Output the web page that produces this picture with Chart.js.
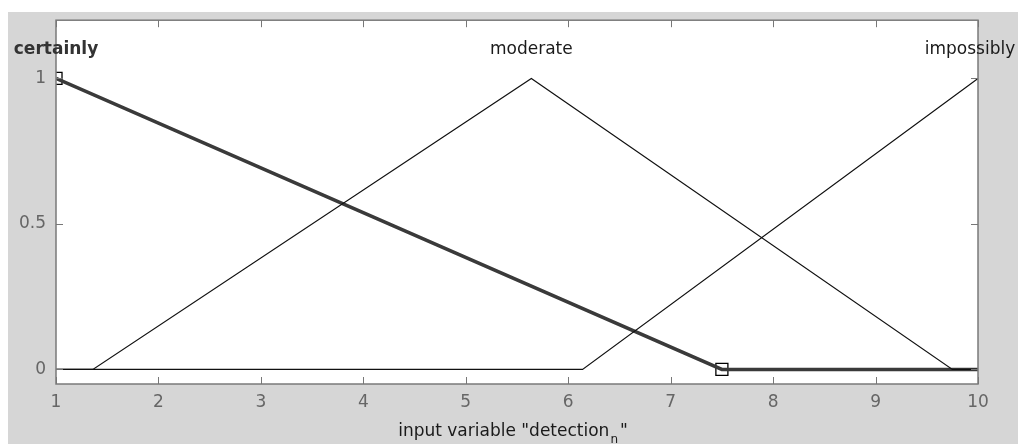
<!DOCTYPE html>
<html>
<head>
<meta charset="utf-8">
<script src="https://cdn.jsdelivr.net/npm/chart.js@4/dist/chart.umd.min.js"></script>
<style>
html,body{margin:0;padding:0;background:#fff;}
canvas{display:block;}
</style>
</head>
<body>
<canvas id="c" width="1018" height="444"></canvas>
<script>
// ---- data ----
const mfNames = ["certainly", "moderate", "impossibly"];
const mfPeaks = [1, 5.64, 10];
const certainlyX = [1, 7.5, 10];
const certainlyY = [1, 0, 0];
const moderateX = [1, 1.36, 5.64, 9.75, 10];
const moderateY = [0, 0, 1, 0, 0];
const impossiblyX = [1, 6.14, 10];
const impossiblyY = [0, 0, 1];
const markerX = [1, 7.5];
const markerY = [1, 0];
const xTicks = [1, 2, 3, 4, 5, 6, 7, 8, 9, 10];
const yTicks = [0, 0.5, 1];
const yTickLabels = ["0", "0.5", "1"];

function pts(xs, ys) { return xs.map((x, i) => ({x: x, y: ys[i]})); }

const FONT = "'DejaVu Sans', sans-serif";

const decor = {
  id: 'decor',
  beforeDraw(chart) {
    const ctx = chart.ctx, a = chart.chartArea;
    ctx.save();
    ctx.fillStyle = '#ffffff';
    ctx.fillRect(0, 0, chart.width, chart.height);
    ctx.fillStyle = '#d6d6d6';
    ctx.fillRect(8, 12, chart.width - 8, chart.height - 12);
    ctx.fillStyle = '#ffffff';
    ctx.fillRect(a.left, a.top, a.right - a.left, a.bottom - a.top);
    ctx.restore();
  },
  afterDraw(chart) {
    const ctx = chart.ctx, a = chart.chartArea;
    const xs = chart.scales.x, ys = chart.scales.y;
    ctx.save();
    // frame
    ctx.strokeStyle = '#7a7a7a';
    ctx.lineWidth = 1.5;
    ctx.strokeRect(a.left, a.top, a.right - a.left, a.bottom - a.top);
    // inside ticks
    ctx.lineWidth = 1;
    ctx.strokeStyle = '#777';
    ctx.beginPath();
    xTicks.forEach(v => {
      const px = Math.round(xs.getPixelForValue(v)) + 0.5;
      ctx.moveTo(px, a.bottom); ctx.lineTo(px, a.bottom - 7);
      ctx.moveTo(px, a.top); ctx.lineTo(px, a.top + 7);
    });
    yTicks.forEach(v => {
      const py = Math.round(ys.getPixelForValue(v)) + 0.5;
      ctx.moveTo(a.left, py); ctx.lineTo(a.left + 7, py);
      ctx.moveTo(a.right, py); ctx.lineTo(a.right - 7, py);
    });
    ctx.stroke();
    // MF labels
    ctx.textAlign = 'center';
    ctx.textBaseline = 'middle';
    mfNames.forEach((n, i) => {
      ctx.font = (i === 0 ? 'bold 17px ' : '17px ') + FONT;
      ctx.fillStyle = i === 0 ? '#333' : '#1a1a1a';
      let px = xs.getPixelForValue(mfPeaks[i]);
      if (i === 2) px -= 8;
      ctx.fillText(n, px, ys.getPixelForValue(1.1));
    });
    // x title with subscript
    const main = 'input variable "detection';
    const sub = 'n';
    const tail = '"';
    ctx.font = '17px ' + FONT;
    const w1 = ctx.measureText(main).width;
    const w3 = ctx.measureText(tail).width;
    ctx.font = '12px ' + FONT;
    const w2 = ctx.measureText(sub).width;
    const total = w1 + w2 + w3 + 3;
    let sx = 513 - total / 2;
    const by = 436;
    ctx.textAlign = 'left';
    ctx.textBaseline = 'alphabetic';
    ctx.fillStyle = '#1a1a1a';
    ctx.font = '17px ' + FONT;
    ctx.fillText(main, sx, by);
    ctx.font = '12px ' + FONT;
    ctx.fillText(sub, sx + w1 + 1, by + 7);
    ctx.font = '17px ' + FONT;
    ctx.fillText(tail, sx + w1 + w2 + 3, by);
    ctx.restore();
  }
};

new Chart(document.getElementById('c'), {
  type: 'scatter',
  data: {
    datasets: [
      { data: pts(moderateX, moderateY), showLine: true, borderColor: '#111', borderWidth: 1.2, pointRadius: 0, fill: false },
      { data: pts(impossiblyX, impossiblyY), showLine: true, borderColor: '#111', borderWidth: 1.2, pointRadius: 0, fill: false },
      { data: pts(certainlyX, certainlyY), showLine: true, borderColor: '#3a3a3a', borderWidth: 3.5, pointRadius: 0, fill: false },
      { data: pts(markerX, markerY), showLine: false, pointStyle: 'rect', pointRadius: 8.5, borderColor: '#000', borderWidth: 1.3, backgroundColor: 'rgba(0,0,0,0)' }
    ]
  },
  options: {
    responsive: false,
    animation: false,
    events: [],
    layout: { padding: { top: 17, right: 40, left: 0, bottom: 0 } },
    plugins: { legend: { display: false }, tooltip: { enabled: false } },
    scales: {
      x: {
        type: 'linear', min: 1, max: 10,
        afterBuildTicks: s => { s.ticks = xTicks.map(v => ({value: v})); },
        afterFit: s => { s.height = 60; },
        grid: { display: false, drawTicks: false },
        border: { display: false },
        ticks: { color: '#666', font: { size: 17, family: FONT }, padding: 8, maxRotation: 0, autoSkip: false }
      },
      y: {
        type: 'linear', min: -0.05, max: 1.2,
        afterBuildTicks: s => { s.ticks = yTicks.map(v => ({value: v})); },
        afterFit: s => { s.width = 56; },
        grid: { display: false, drawTicks: false },
        border: { display: false },
        ticks: { color: '#666', font: { size: 17, family: FONT }, padding: 10,
          callback: (v) => { const i = yTicks.indexOf(v); return i >= 0 ? yTickLabels[i] : ''; } }
      }
    }
  },
  plugins: [decor]
});
</script>
</body>
</html>
